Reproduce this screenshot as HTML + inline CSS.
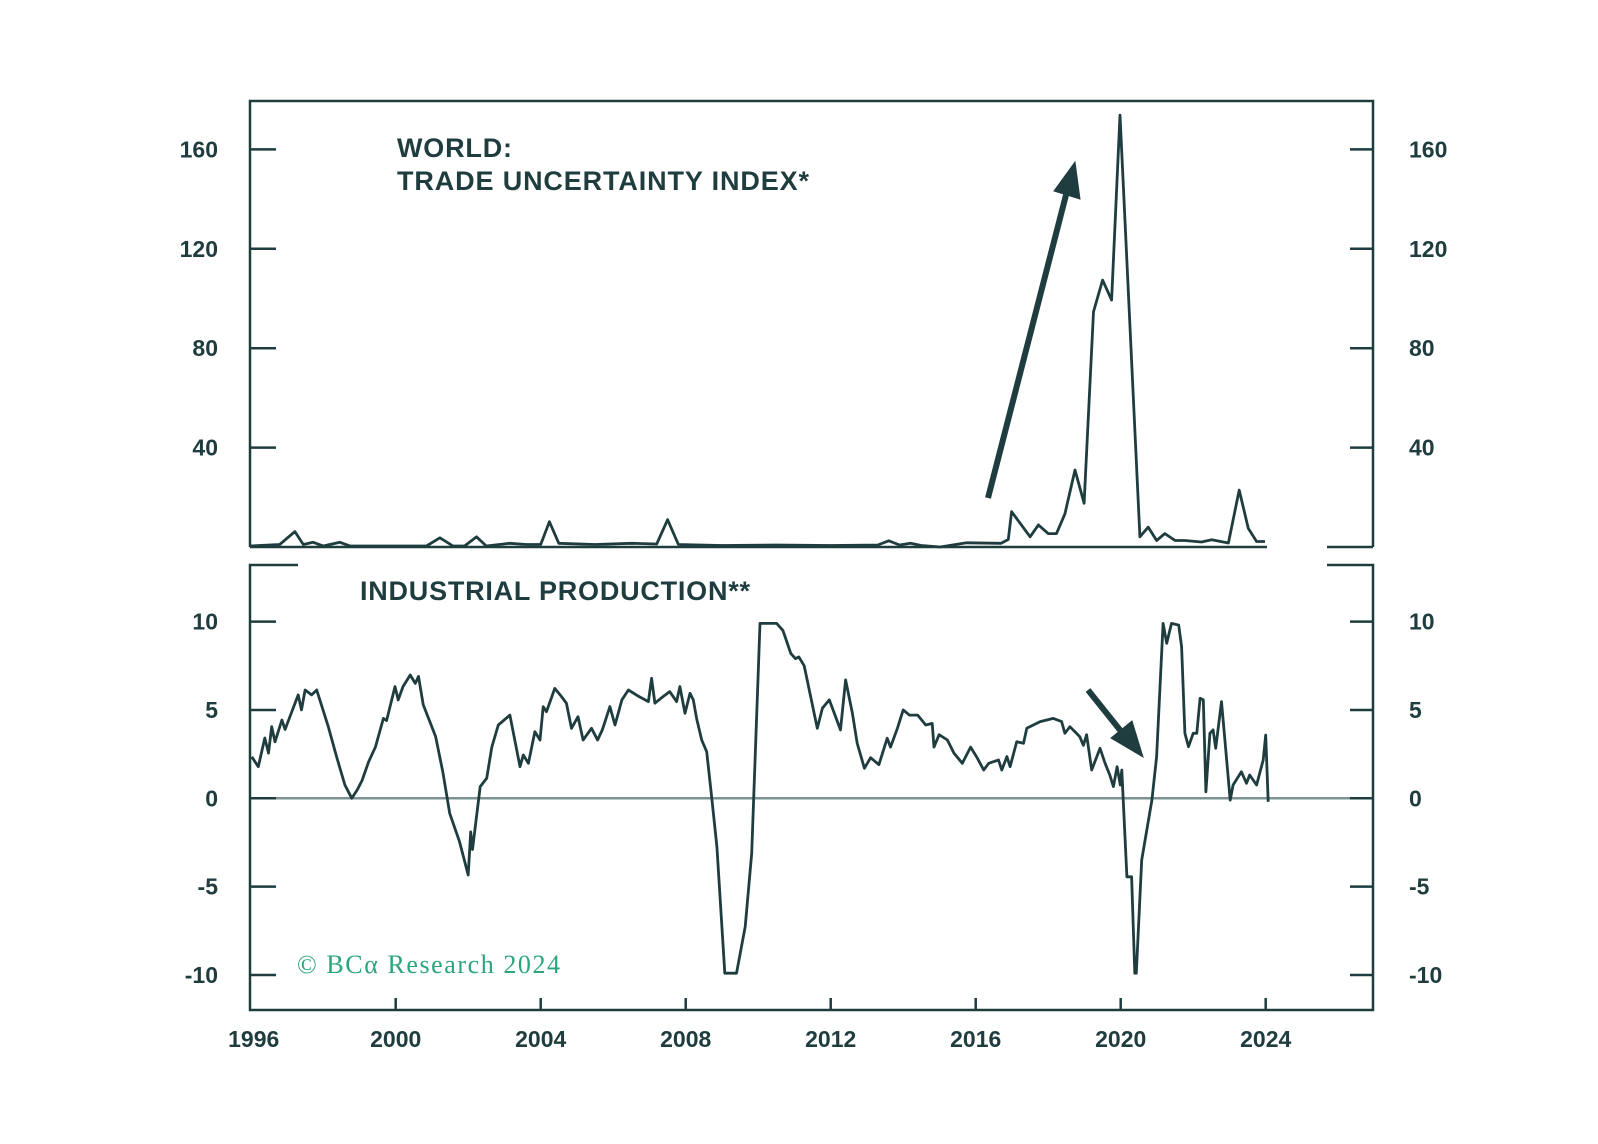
<!DOCTYPE html>
<html><head><meta charset="utf-8"><style>
html,body{margin:0;padding:0;background:#fff;}
svg{display:block;font-family:"Liberation Sans",sans-serif;}
</style></head><body>
<svg id="chart" width="1598" height="1144" viewBox="0 0 1598 1144" xmlns="http://www.w3.org/2000/svg">
<rect width="1598" height="1144" fill="#fff"/>
<g id="frames" stroke="#1f3d3f" stroke-width="2.5" fill="none">
<path d="M250,547 V101 H1373 V547 M250,547 H1267 M1327,547 H1373"/>
<path d="M298,565 H250 V1010 H1373 V565 H1327"/>
</g>
<g id="axes"></g>
<g id="series"></g>
<text x="397" y="157" font-size="27" font-weight="bold" fill="#1f3d3f" textLength="115">WORLD:</text>
<text x="397" y="190" font-size="27" font-weight="bold" fill="#1f3d3f" textLength="412">TRADE UNCERTAINTY INDEX*</text>
<text x="360" y="600" font-size="27" font-weight="bold" fill="#1f3d3f" textLength="390">INDUSTRIAL PRODUCTION**</text>
<text x="297" y="973" font-size="26" font-family="Liberation Serif, serif" fill="#2ba57a" textLength="263">© BCα Research 2024</text>
<g fill="#1f3d3f" stroke="#1f3d3f">
<line x1="988" y1="498" x2="1066" y2="195" stroke-width="6"/>
<polygon points="1075,162 1054,191 1080,199" stroke-width="1"/>
</g>
<g fill="#1f3d3f" stroke="#1f3d3f">
<line x1="1088" y1="690" x2="1124" y2="735" stroke-width="6"/>
<polygon points="1143,757 1111,738 1132,721" stroke-width="1"/>
</g>
</svg>
<script>
const tuYears=[1996,1996.8,1997.22,1997.45,1997.72,1998,1998.46,1998.74,2000.85,2001.22,2001.58,2001.9,2002.23,2002.5,2003.15,2003.6,2004.0,2004.24,2004.5,2005.5,2006.5,2007.2,2007.5,2007.8,2009,2010.5,2012,2013.3,2013.6,2013.9,2014.2,2014.5,2015.02,2015.75,2016.7,2016.9,2016.99,2017.5,2017.73,2018.0,2018.23,2018.46,2018.74,2018.99,2019.25,2019.5,2019.75,2019.98,2020.53,2020.76,2020.99,2021.22,2021.5,2021.77,2022.23,2022.51,2022.97,2023.27,2023.52,2023.75,2023.98];
const tuValues=[0.4,1,6.2,1,1.9,0.4,1.9,0.4,0.4,3.7,0.4,0.4,4.1,0.4,1.5,1,1,10.2,1.5,1,1.5,1.2,11,1,0.6,0.8,0.6,0.8,2.5,0.8,1.5,0.6,0,1.7,1.5,3,14.2,4.1,8.9,5.4,5.4,13.3,31,17.6,94.7,107.4,99.4,173.8,4.1,8,2.6,5.4,2.6,2.6,2,2.9,1.6,22.9,7.5,2.2,2.2];
const ipYears=[1996.03,1996.21,1996.39,1996.49,1996.58,1996.67,1996.86,1996.95,1997.31,1997.4,1997.5,1997.68,1997.82,1998.14,1998.37,1998.6,1998.79,1998.94,1999.07,1999.25,1999.44,1999.66,1999.75,1999.98,2000.07,2000.2,2000.4,2000.54,2000.63,2000.76,2001.1,2001.3,2001.49,2001.76,2002.0,2002.07,2002.12,2002.33,2002.51,2002.65,2002.83,2003.15,2003.43,2003.52,2003.66,2003.84,2003.98,2004.07,2004.16,2004.39,2004.57,2004.71,2004.85,2005.03,2005.17,2005.4,2005.57,2005.7,2005.91,2006.05,2006.24,2006.42,2006.71,2006.97,2007.06,2007.15,2007.38,2007.56,2007.75,2007.84,2007.98,2008.12,2008.21,2008.3,2008.44,2008.58,2008.72,2008.86,2009.08,2009.4,2009.64,2009.82,2010.05,2010.51,2010.68,2010.9,2011.03,2011.12,2011.27,2011.63,2011.77,2011.96,2012.1,2012.27,2012.41,2012.6,2012.73,2012.93,2013.1,2013.33,2013.56,2013.65,2013.84,2014.0,2014.17,2014.4,2014.62,2014.8,2014.85,2014.99,2015.22,2015.4,2015.63,2015.86,2016.04,2016.22,2016.36,2016.63,2016.72,2016.86,2016.95,2017.13,2017.32,2017.41,2017.59,2017.78,2018.14,2018.37,2018.46,2018.6,2018.87,2018.97,2019.06,2019.2,2019.43,2019.57,2019.7,2019.8,2019.9,2019.99,2020.03,2020.17,2020.3,2020.39,2020.43,2020.58,2020.86,2020.99,2021.17,2021.27,2021.4,2021.6,2021.68,2021.77,2021.87,2022.0,2022.1,2022.19,2022.28,2022.35,2022.46,2022.55,2022.62,2022.78,2023.02,2023.1,2023.33,2023.47,2023.56,2023.75,2023.93,2024.0,2024.07];
const ipValues=[2.35,1.79,3.41,2.56,4.05,3.2,4.43,3.9,5.85,5.0,6.13,5.85,6.13,4.05,2.35,0.75,0.0,0.48,1.0,2.05,2.9,4.52,4.4,6.32,5.57,6.32,6.98,6.5,6.9,5.3,3.5,1.5,-0.85,-2.45,-4.34,-1.9,-2.9,0.66,1.13,2.9,4.15,4.71,1.79,2.45,1.98,3.77,3.3,5.19,4.9,6.22,5.76,5.38,3.96,4.62,3.3,3.96,3.3,3.87,5.19,4.15,5.57,6.13,5.76,5.47,6.79,5.38,5.76,6.04,5.47,6.32,4.81,5.94,5.57,4.52,3.3,2.64,0,-2.74,-9.9,-9.9,-7.27,-3.11,9.9,9.9,9.5,8.2,7.9,8.0,7.5,3.96,5.1,5.57,4.81,3.87,6.7,4.81,3.11,1.7,2.3,1.9,3.4,2.9,3.96,5.0,4.71,4.71,4.15,4.24,2.9,3.6,3.3,2.55,1.98,2.9,2.3,1.6,1.98,2.17,1.6,2.36,1.79,3.2,3.11,3.96,4.15,4.34,4.52,4.34,3.68,4.05,3.49,3.0,3.6,1.6,2.83,1.98,1.32,0.66,1.79,0.75,1.6,-4.44,-4.44,-9.9,-9.9,-3.49,-0.1,2.35,9.9,8.77,9.9,9.8,8.58,3.68,2.92,3.68,3.68,5.66,5.57,0.37,3.68,3.87,2.83,5.47,-0.1,0.75,1.5,0.85,1.32,0.75,2.17,3.58,-0.2];
const tuTicks=[40,80,120,160];
const ipTicks=[-10,-5,0,5,10];
const yearTicks=[1996,2000,2004,2008,2012,2016,2020,2024];

const NS='http://www.w3.org/2000/svg';
const C='#1f3d3f';
function xS(y){return 250.7+(y-1996)*36.25;}
function yTop(v){return 547-v*2.485;}
function yBot(v){return 798.3-v*17.67;}
function mk(tag,attrs,parent){const e=document.createElementNS(NS,tag);for(const k in attrs)e.setAttribute(k,attrs[k]);parent.appendChild(e);return e;}
const axes=document.getElementById('axes');
const series=document.getElementById('series');

let zl=mk('line',{x1:250,x2:1373,y1:yBot(0),y2:yBot(0),stroke:'#7f9292','stroke-width':2.5},axes);



function yTicks(ticks,scale,prefix){
  ticks.forEach(t=>{
    const y=scale(t);
    let l=mk('line',{x1:250,x2:276,y1:y,y2:y,stroke:C,'stroke-width':2.5},axes);
    
    
    let r=mk('line',{x1:1350,x2:1373,y1:y,y2:y,stroke:C,'stroke-width':2.5},axes);
    
    
    let tl=mk('text',{x:218,y:y+8,'text-anchor':'end','font-size':23,'font-weight':'bold',fill:C},axes);
    tl.textContent=t;
    
    
    let tr=mk('text',{x:1409,y:y+8,'font-size':23,'font-weight':'bold',fill:C},axes);
    tr.textContent=t;
    
    
  });
}
yTicks(tuTicks,yTop,'top-y');
yTicks(ipTicks,yBot,'bottom-y');

yearTicks.forEach(yr=>{
  const x=xS(yr);
  if(yr>1996){
    let l=mk('line',{x1:x,x2:x,y1:998,y2:1010,stroke:C,'stroke-width':2.5},axes);
    
    
  }
  let t=mk('text',{x:x+(yr===1996?3:0),y:1047,'text-anchor':'middle','font-size':23,'font-weight':'bold',fill:C},axes);
  t.textContent=yr;
  
  
});

function line(xs,vs,scale,name){
  const d=xs.map((x,i)=>(i?'L':'M')+xS(x).toFixed(1)+','+scale(vs[i]).toFixed(1)).join(' ');
  const p=mk('path',{d:d,fill:'none',stroke:C,'stroke-width':2.8,'stroke-linejoin':'round'},series);
  
  
}
line(tuYears,tuValues,yTop,'trade-uncertainty-line');
line(ipYears,ipValues,yBot,'industrial-production-line');
</script>
</body></html>
